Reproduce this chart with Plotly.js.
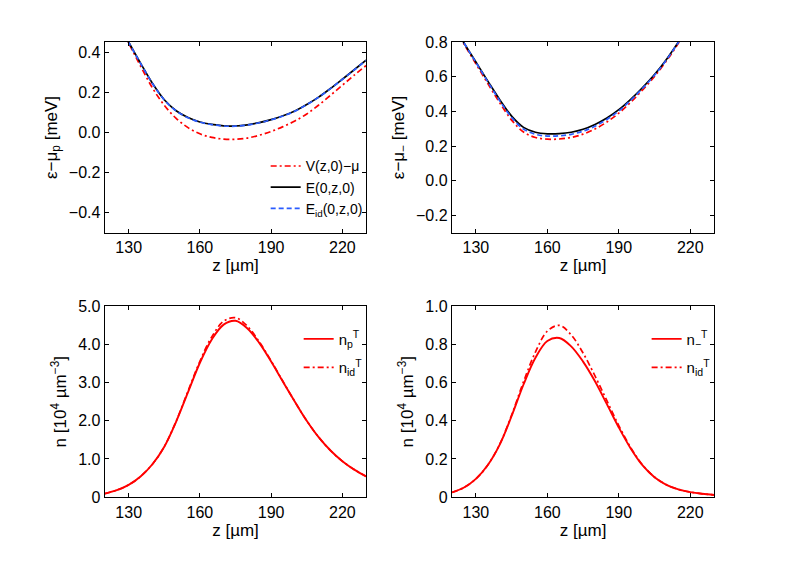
<!DOCTYPE html>
<html>
<head>
<meta charset="utf-8">
<script src="https://cdn.plot.ly/plotly-3.0.1.min.js"></script>
<style>
  body { margin: 0; background: #fff; }
  #graph { width: 789px; height: 561px; }
</style>
</head>
<body>
<div id="graph"></div>
<script>
// top left: energies, proton side
var zA = [125, 130, 135, 140, 145, 150, 155, 160, 165, 170, 175, 180, 185, 190, 195, 200, 205, 210, 215, 220, 225, 230];
var potA = [0.56, 0.445, 0.33, 0.222, 0.135, 0.07, 0.024, -0.007, -0.025, -0.033, -0.034, -0.028, -0.014, 0.005, 0.029, 0.057, 0.092, 0.136, 0.185, 0.235, 0.285, 0.333];
var enA = [0.56, 0.45, 0.345, 0.245, 0.163, 0.108, 0.074, 0.052, 0.04, 0.033, 0.032, 0.038, 0.049, 0.064, 0.083, 0.107, 0.139, 0.176, 0.219, 0.265, 0.312, 0.36];
var enIdA = [0.56, 0.449, 0.344, 0.244, 0.162, 0.107, 0.073, 0.051, 0.039, 0.032, 0.031, 0.037, 0.048, 0.063, 0.082, 0.106, 0.138, 0.175, 0.218, 0.264, 0.311, 0.359];

// top right: energies, minus side
var zB = [120, 125, 130, 135, 140, 145, 150, 155, 160, 165, 170, 175, 180, 185, 190, 195, 200, 205, 210, 215, 220];
var potB = [0.912, 0.789, 0.675, 0.561, 0.45, 0.35, 0.281, 0.25, 0.24, 0.241, 0.25, 0.269, 0.299, 0.339, 0.39, 0.453, 0.524, 0.602, 0.691, 0.793, 0.904];
var enB = [0.915, 0.795, 0.685, 0.575, 0.468, 0.373, 0.308, 0.28, 0.271, 0.272, 0.28, 0.297, 0.325, 0.362, 0.41, 0.47, 0.538, 0.613, 0.7, 0.8, 0.91];
var enIdB = [0.915, 0.795, 0.683, 0.571, 0.462, 0.365, 0.298, 0.268, 0.258, 0.259, 0.268, 0.286, 0.315, 0.354, 0.403, 0.464, 0.533, 0.609, 0.697, 0.798, 0.908];

// bottom: densities
var zN = [120, 125, 130, 135, 140, 145, 150, 155, 160, 165, 170, 175, 180, 185, 190, 195, 200, 205, 210, 215, 220, 225, 230];
var nP = [0.09, 0.18, 0.32, 0.54, 0.86, 1.32, 1.98, 2.75, 3.52, 4.13, 4.52, 4.62, 4.42, 4.04, 3.55, 3.02, 2.5, 2.0, 1.57, 1.22, 0.94, 0.72, 0.54];
var nIdP = [0.09, 0.18, 0.32, 0.54, 0.86, 1.32, 1.99, 2.78, 3.56, 4.2, 4.61, 4.7, 4.48, 4.07, 3.57, 3.03, 2.5, 2.0, 1.57, 1.22, 0.94, 0.72, 0.54];
var nM = [0.024, 0.05, 0.095, 0.168, 0.275, 0.425, 0.59, 0.73, 0.818, 0.834, 0.79, 0.71, 0.607, 0.487, 0.365, 0.255, 0.166, 0.104, 0.064, 0.04, 0.026, 0.017, 0.011];
var nIdM = [0.024, 0.05, 0.095, 0.168, 0.277, 0.43, 0.605, 0.76, 0.87, 0.9, 0.85, 0.755, 0.635, 0.505, 0.375, 0.26, 0.168, 0.105, 0.065, 0.04, 0.026, 0.017, 0.011];

// ticks
var zTicks = [130, 160, 190, 220];
var tickA = [-0.4, -0.2, 0, 0.2, 0.4];
var tickAText = ["\u22120.4", "\u22120.2", "0.0", "0.2", "0.4"];
var tickB = [-0.2, 0, 0.2, 0.4, 0.6, 0.8];
var tickBText = ["\u22120.2", "0.0", "0.2", "0.4", "0.6", "0.8"];
var tickNP = [0, 1, 2, 3, 4, 5];
var tickNPText = ["0", "1.0", "2.0", "3.0", "4.0", "5.0"];
var tickNM = [0, 0.2, 0.4, 0.6, 0.8, 1.0];
var tickNMText = ["0", "0.2", "0.4", "0.6", "0.8", "1.0"];

var FONT = "Liberation Sans, Arial, sans-serif";
var RED = "#ff0000", BLUE = "#2a5cff";
var DASHDOT = "6px,3px,2px,3px";

var traces = [
  {x: zA, y: potA, name: "V(z,0)\u2212\u03bc", xaxis: "x", yaxis: "y", legend: "legend",
   mode: "lines", line: {color: RED, width: 1.7, dash: DASHDOT, shape: "spline"}},
  {x: zA, y: enA, name: "E(0,z,0)", xaxis: "x", yaxis: "y", legend: "legend",
   mode: "lines", line: {color: "#000", width: 1.7, shape: "spline"}},
  {x: zA, y: enIdA, name: "E<sub>id</sub>(0,z,0)", xaxis: "x", yaxis: "y", legend: "legend",
   mode: "lines", line: {color: BLUE, width: 1.7, dash: "5px,3px", shape: "spline"}},

  {x: zB, y: potB, name: "V", xaxis: "x2", yaxis: "y2", showlegend: false,
   mode: "lines", line: {color: RED, width: 1.7, dash: DASHDOT, shape: "spline"}},
  {x: zB, y: enB, name: "E", xaxis: "x2", yaxis: "y2", showlegend: false,
   mode: "lines", line: {color: "#000", width: 1.7, shape: "spline"}},
  {x: zB, y: enIdB, name: "Eid", xaxis: "x2", yaxis: "y2", showlegend: false,
   mode: "lines", line: {color: BLUE, width: 1.7, dash: "5px,3px", shape: "spline"}},

  {x: zN, y: nP, name: "n<sub>p</sub><sup>T</sup>", xaxis: "x3", yaxis: "y3", legend: "legend3",
   legendgroup: "a", mode: "lines", line: {color: RED, width: 1.9, shape: "spline"}},
  {x: zN, y: nIdP, name: "n<sub>id</sub><sup>T</sup>", xaxis: "x3", yaxis: "y3", legend: "legend3",
   legendgroup: "b", mode: "lines", line: {color: RED, width: 1.7, dash: DASHDOT, shape: "spline"}},

  {x: zN, y: nM, name: "n<sub>\u2212</sub><sup>T</sup>", xaxis: "x4", yaxis: "y4", legend: "legend4",
   legendgroup: "c", mode: "lines", line: {color: RED, width: 1.9, shape: "spline"}},
  {x: zN, y: nIdM, name: "n<sub>id</sub><sup>T</sup>", xaxis: "x4", yaxis: "y4", legend: "legend4",
   legendgroup: "d", mode: "lines", line: {color: RED, width: 1.7, dash: DASHDOT, shape: "spline"}}
];

function xAx(dom, anchor) {
  return {
    domain: dom, anchor: anchor, range: [120, 230], tickvals: zTicks,
    ticks: "inside", ticklen: 4, tickcolor: "#000", mirror: "allticks",
    showline: true, linecolor: "#000", linewidth: 1.3, showgrid: false, zeroline: false,
    tickfont: {family: FONT, size: 16, color: "#000"},
    title: {text: "z [\u00b5m]", font: {family: FONT, size: 17, color: "#000"}, standoff: 0}
  };
}
function yAx(dom, anchor, range, vals, text, title) {
  return {
    domain: dom, anchor: anchor, range: range, tickvals: vals, ticktext: text,
    ticks: "inside", ticklen: 4, tickcolor: "#000", mirror: "allticks",
    showline: true, linecolor: "#000", linewidth: 1.3, showgrid: false, zeroline: false,
    tickfont: {family: FONT, size: 16, color: "#000"},
    title: {text: title, font: {family: FONT, size: 17, color: "#000"}, standoff: 7}
  };
}
function leg(x, y, yanchor, size, gap) {
  return {
    x: x, y: y, xanchor: "right", yanchor: yanchor, bgcolor: "rgba(0,0,0,0)",
    font: {family: FONT, size: size, color: "#000"}, itemwidth: 30,
    traceorder: "grouped", tracegroupgap: gap
  };
}

var colL = [0.133, 0.464], colR = [0.573, 0.905];
var rowT = [0.585, 0.925], rowB = [0.114, 0.454];

var layout = {
  width: 789, height: 561,
  margin: {l: 0, r: 0, t: 0, b: 0},
  paper_bgcolor: "#fff", plot_bgcolor: "#fff",
  xaxis: xAx(colL, "y"),
  yaxis: yAx(rowT, "x", [-0.5, 0.45], tickA, tickAText, "\u03b5\u2212\u03bc<sub>p</sub> [meV]"),
  xaxis2: xAx(colR, "y2"),
  yaxis2: yAx(rowT, "x2", [-0.3, 0.8], tickB, tickBText, "\u03b5\u2212\u03bc<sub>\u2212</sub> [meV]"),
  xaxis3: xAx(colL, "y3"),
  yaxis3: yAx(rowB, "x3", [0, 5], tickNP, tickNPText, "n [10<sup>4</sup> \u00b5m<sup>\u22123</sup>]"),
  xaxis4: xAx(colR, "y4"),
  yaxis4: yAx(rowB, "x4", [0, 1], tickNM, tickNMText, "n [10<sup>4</sup> \u00b5m<sup>\u22123</sup>]"),
  legend: leg(0.466, 0.6, "bottom", 14, 0),
  legend3: leg(0.466, 0.425, "top", 15, 6),
  legend4: leg(0.907, 0.425, "top", 15, 6)
};

Plotly.newPlot("graph", traces, layout, {displayModeBar: false, staticPlot: true});
</script>
</body>
</html>
